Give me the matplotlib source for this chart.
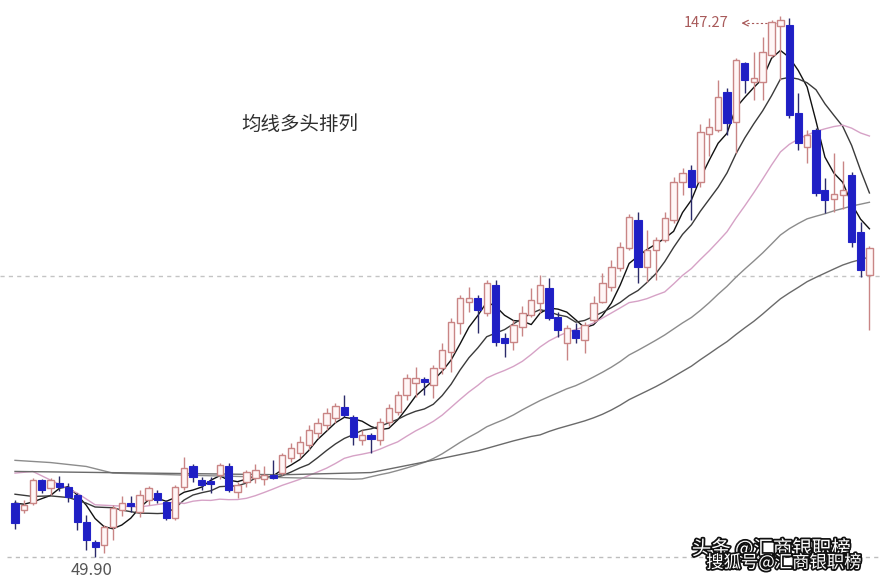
import matplotlib
matplotlib.use("Agg")
import matplotlib.pyplot as plt
import matplotlib.patheffects as pe
import numpy as np
import pandas as pd

plt.rcParams['font.family'] = ['Noto Sans CJK SC', 'DejaVu Sans']

# daily candles (price units)
opens = [59.6, 58.4, 59.6, 63.8, 62.3, 63.2, 62.5, 61.1, 56.2, 52.6,
         52.1, 55.3, 58.4, 59.6, 58.0, 60.2, 61.4, 59.8, 56.9, 62.5,
         66.3, 63.8, 63.6, 64.7, 66.3, 61.6, 63.4, 64.1, 64.0, 64.7,
         65.0, 67.7, 68.6, 70.0, 72.2, 73.7, 74.9, 76.9, 75.1, 70.9,
         71.9, 71.0, 74.2, 76.0, 79.1, 81.2, 82.0, 80.9, 83.9, 86.8,
         92.0, 95.8, 96.5, 93.8, 98.9, 89.3, 88.6, 91.3, 93.5, 95.6,
         98.3, 93.1, 88.4, 90.8, 88.9, 92.6, 95.8, 98.5, 101.9, 105.5,
         110.6, 102.1, 105.2, 107.0, 110.6, 117.4, 119.6, 117.4, 126.0, 126.7,
         133.6, 128.2, 138.8, 135.4, 135.4, 140.3, 145.5, 145.7, 129.8, 123.7,
         126.8, 116.0, 114.3, 115.1, 118.7, 108.4, 100.7]
highs = [60.2, 60.2, 64.1, 64.0, 64.1, 64.4, 63.2, 61.5, 57.5, 53.0,
         55.7, 59.3, 60.8, 60.8, 62.0, 62.7, 62.0, 60.2, 62.9, 67.9,
         66.6, 64.3, 64.3, 66.8, 66.8, 63.4, 65.6, 66.6, 66.3, 67.4,
         68.6, 70.4, 71.6, 73.7, 74.9, 76.7, 77.7, 79.1, 75.5, 72.8,
         72.2, 74.9, 77.5, 79.8, 82.9, 84.1, 82.3, 84.5, 88.4, 93.0,
         97.0, 98.5, 97.0, 99.8, 99.8, 90.2, 92.6, 95.1, 98.3, 100.7,
         100.1, 94.0, 91.7, 92.0, 92.2, 96.8, 101.0, 103.3, 106.6, 111.7,
         112.0, 108.8, 107.5, 112.0, 118.3, 119.9, 120.5, 127.9, 128.9, 135.8,
         134.3, 139.7, 139.0, 140.8, 143.5, 146.6, 147.27, 146.9, 133.4, 126.8,
         127.1, 118.1, 122.6, 121.1, 119.2, 110.2, 105.9]
lows = [54.9, 57.8, 59.3, 61.4, 61.1, 61.7, 59.8, 54.8, 51.2, 49.9,
        50.6, 53.0, 57.2, 58.0, 57.1, 59.3, 59.6, 56.6, 56.6, 61.9,
        63.4, 62.0, 61.4, 64.0, 61.6, 60.5, 62.5, 63.2, 62.9, 63.9,
        64.7, 67.0, 67.7, 69.1, 71.3, 72.8, 74.0, 75.1, 70.1, 70.1,
        68.6, 70.1, 73.5, 75.4, 78.2, 78.7, 79.1, 78.5, 82.9, 83.2,
        90.0, 94.0, 90.2, 93.3, 87.9, 85.9, 87.2, 89.7, 93.1, 93.8,
        92.6, 89.5, 85.4, 88.4, 86.6, 92.2, 95.6, 97.7, 101.4, 105.2,
        99.2, 99.4, 99.8, 106.6, 110.0, 115.1, 110.6, 116.5, 122.0, 126.4,
        125.9, 122.6, 133.4, 132.2, 132.2, 139.9, 135.8, 128.9, 123.2, 120.8,
        114.9, 111.8, 112.0, 112.6, 105.7, 100.3, 90.8]
closes = [56.0, 59.3, 63.8, 62.0, 63.8, 62.5, 60.7, 56.2, 53.0, 51.7,
          55.3, 58.7, 59.6, 59.1, 61.1, 62.3, 60.2, 56.9, 62.5, 65.9,
          64.3, 62.9, 63.0, 66.5, 62.0, 62.9, 65.2, 65.6, 64.7, 64.1,
          68.3, 69.5, 70.6, 72.8, 74.0, 75.8, 77.1, 75.5, 71.5, 71.8,
          71.1, 74.2, 76.7, 79.1, 82.1, 82.1, 81.4, 83.9, 87.2, 92.2,
          96.5, 96.5, 94.4, 99.2, 88.6, 88.4, 91.7, 93.8, 96.2, 98.9,
          92.9, 90.8, 91.1, 89.3, 91.7, 95.6, 99.2, 102.1, 105.7, 111.1,
          102.1, 105.2, 107.0, 110.9, 117.4, 119.0, 116.5, 126.4, 127.3, 132.7,
          128.0, 139.4, 135.8, 136.1, 140.8, 146.2, 146.5, 129.5, 124.4, 125.9,
          115.4, 114.2, 115.2, 116.0, 106.6, 101.6, 105.5]

# moving-average values before each window fills (history not on screen)
ma_lead = {
    5: ([0, 1, 2, 3], [59.6, 59.4, 59.8, 60.4]),
    10: ([0, 2, 4, 6, 8], [61.2, 60.8, 60.9, 60.6, 59.6]),
    20: ([0, 2, 7, 9, 14, 18], [65.0, 65.3, 61.4, 59.3, 58.9, 59.8]),
    40: ([0, 4, 8, 11, 20, 30, 38], [67.3, 66.9, 66.2, 65.0, 64.6, 64.2, 63.9]),
    60: ([0, 10, 20, 30, 40, 46, 52, 56, 58],
         [65.3, 65.1, 64.9, 64.7, 65.1, 67.0, 69.0, 70.8, 71.6]),
}
ma_colors = {5: '#111111', 10: '#3a3a3a', 20: '#d6a2c6', 40: '#8c8c8c', 60: '#6a6a6a'}

low_price = 49.90
high_price = 147.27
grid_price = 100.5

fig = plt.figure(figsize=(8.81, 5.82), dpi=100)
ax = fig.add_axes([0, 0, 1, 1])
ax.axis('off')
ax.set_xlim(-1.685, 97.3)
ax.set_ylim(45.4, 150.16)

# dashed reference lines
ax.axhline(grid_price, color='#c4c4c4', lw=1, ls=(0, (3, 3)), zorder=0)
ax.plot([-0.9, 97.3], [low_price, low_price], color='#bdbdbd', lw=1, ls=(0, (3, 3)), zorder=0)

n = len(closes)
x = np.arange(n)
o = np.array(opens)
c = np.array(closes)
h = np.array(highs)
l = np.array(lows)
up = c >= o

close_s = pd.Series(closes)
for win, (li, lv) in ma_lead.items():
    ma = close_s.rolling(win).mean().to_numpy()
    xs = list(li) + list(range(win - 1, n))
    ys = list(lv) + list(ma[win - 1:])
    ax.plot(xs, ys, color=ma_colors[win], lw=1.0, zorder=2)

# wicks
ax.vlines(x[up], l[up], h[up], color='#c98585', lw=1.0, zorder=3)
ax.vlines(x[~up], l[~up], h[~up], color='#2a2a6a', lw=1.0, zorder=3)

# bodies
bottom = np.minimum(o, c)
height = np.maximum(np.abs(c - o), 0.35)
ax.bar(x[up], height[up], bottom=bottom[up], width=0.72,
       color='#fff6f6', edgecolor='#c98585', linewidth=1.0, zorder=4)
ax.bar(x[~up], height[~up], bottom=bottom[~up], width=0.8,
       color='#1f1fc4', edgecolor='#2323c8', linewidth=0.8, zorder=4)

# annotations
ax.text(32.0, 127.7, '均线多头排列', fontsize=14, color='#2e2e2e',
        ha='center', va='center')
ax.text(8.65, 47.4, '49.90', fontsize=12, color='#555555',
        ha='center', va='center')
ax.text(75.1, 146.0, '147.27', fontsize=10.5, color='#a85a5a',
        ha='left', va='center')
ax.annotate('', xy=(81.3, 146.0), xytext=(82.3, 146.0),
            arrowprops=dict(arrowstyle='->', color='#a85a5a', lw=0.9))
ax.plot([82.2, 85.8], [146.0, 146.0], color='#a85a5a', lw=0.8, ls=(0, (2, 2)))

stroke = [pe.withStroke(linewidth=2.5, foreground='#111111')]
ax.text(85.0, 51.3, '头条 @汇商银职榜', fontsize=14, color='white',
        ha='center', va='center', path_effects=stroke, zorder=6)
ax.text(86.4, 48.9, '搜狐号@汇商银职榜', fontsize=12.5, color='white',
        ha='center', va='center', path_effects=stroke, zorder=7)

fig.savefig('out.png', dpi=100)
